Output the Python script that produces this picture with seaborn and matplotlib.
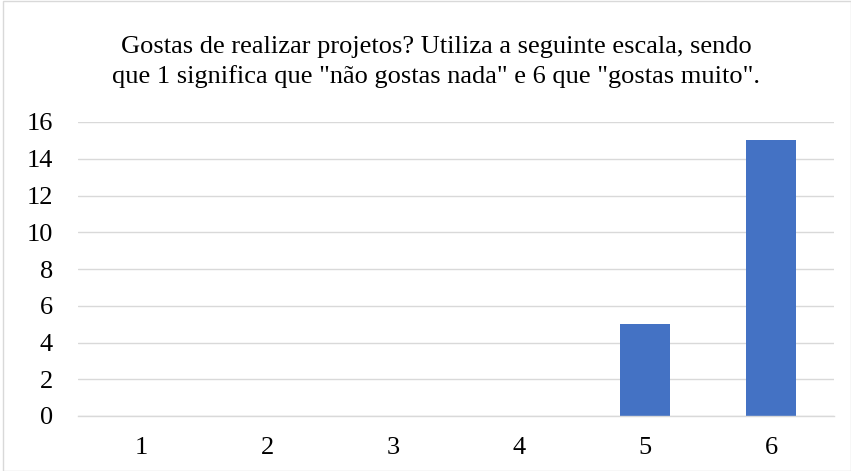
import matplotlib
matplotlib.use("Agg")
import matplotlib.pyplot as plt
import seaborn as sns
import pandas as pd

categories = ["1", "2", "3", "4", "5", "6"]
values = [0, 0, 0, 0, 5, 15]
yticks = [0, 2, 4, 6, 8, 10, 12, 14, 16]
title = 'Gostas de realizar projetos? Utiliza a seguinte escala, sendo\nque 1 significa que "não gostas nada" e 6 que "gostas muito".'

sns.set_theme(style="white")
plt.rcParams['font.family'] = ['Liberation Serif', 'DejaVu Serif']

df = pd.DataFrame({"cat": categories, "val": values})

fig = plt.figure(figsize=(8.51, 4.71), dpi=100)
ax = fig.add_axes([78/851, 1-416/471, (834-78)/851, (416-122)/471])
sns.barplot(data=df, x="cat", y="val", color="#4472C4", width=0.39, ax=ax,
            saturation=1, linewidth=0)

ax.set_ylim(0, 16)
ax.set_yticks(yticks)
ax.yaxis.grid(True, color="#D9D9D9", linewidth=1)
ax.set_axisbelow(True)
for s in ["top", "right", "left"]:
    ax.spines[s].set_visible(False)
ax.spines["bottom"].set_color("#D9D9D9")
ax.spines["bottom"].set_linewidth(1)
ax.tick_params(axis="both", length=0, labelsize=19, colors="#000000")
ax.tick_params(axis="y", pad=18)
ax.tick_params(axis="x", pad=15)
ax.set_xlabel("")
ax.set_ylabel("")

fig.text(436/851, 1-62/471, title, ha="center", va="center", fontsize=19,
         linespacing=1.34, color="black")

# outer border
rect = plt.Rectangle((2.5/851, 0.5/471), 1-3/851, 1-1/471, transform=fig.transFigure,
                     fill=False, edgecolor="#D9D9D9", linewidth=1)
fig.patches.append(rect)

fig.savefig("out.png", dpi=100)
